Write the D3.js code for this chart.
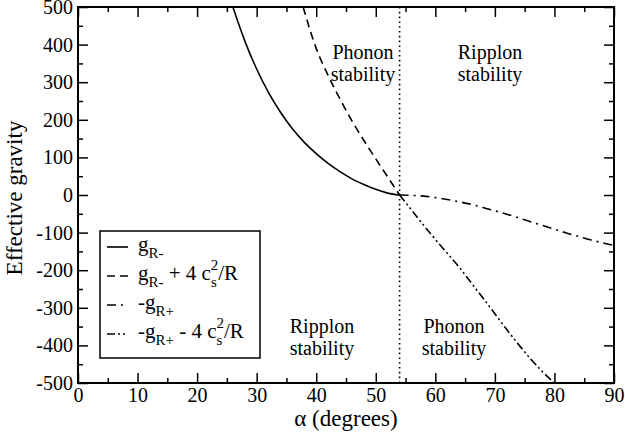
<!DOCTYPE html>
<html>
<head>
<meta charset="utf-8">
<script src="https://cdn.jsdelivr.net/npm/d3@7"></script>
<style>
  body { margin: 0; background: #fff; }
  text { font-family: "Liberation Serif", "DejaVu Serif", serif; fill: #000; }
</style>
</head>
<body>
<div id="viz"></div>
<script>
// curve data (alpha in degrees, effective gravity)
const alphaGm = [26, 28, 30, 32, 34, 36, 38, 40, 42, 44, 46, 48, 50, 52, 54];
const gMinus = [500, 410, 335, 272, 220, 176, 140, 110, 84, 62, 43, 28, 15, 5, 0];

const alphaGm4 = [37.8, 40, 42, 44, 46, 48, 50, 52, 54];
const gMinusPlus4 = [500, 390, 318, 255, 197, 145, 96, 48, 0];

const alphaGp = [54, 56, 58, 60, 62, 64, 66, 68, 70, 72, 74, 76, 78, 80, 82, 84, 86, 88, 90];
const negGPlus = [0, -1, -3, -7, -12, -18, -25, -33, -42, -51, -61, -71, -81, -91, -101, -110, -119, -127, -134];

const alphaGp4 = [54, 56, 58, 60, 62, 64, 66, 68, 70, 72, 74, 76, 78, 80];
const negGPlusMinus4 = [0, -40, -80, -118, -155, -192, -233, -274, -316, -358, -398, -436, -470, -500];

const magicAngle = 54;

const xTicks = [0, 10, 20, 30, 40, 50, 60, 70, 80, 90];
const yTicks = [500, 400, 300, 200, 100, 0, -100, -200, -300, -400, -500];

const width = 625;
const height = 435;
const margin = { left: 78, right: 11, top: 7, bottom: 52 };
const serif = '"Liberation Serif", serif';

const svg = d3.select("#viz").append("svg")
    .attr("width", width)
    .attr("height", height);

const x = d3.scaleLinear().domain([0, 90]).range([margin.left, width - margin.right]);
const y = d3.scaleLinear().domain([-500, 500]).range([height - margin.bottom, margin.top]);

svg.append("clipPath").attr("id", "clip")
    .append("rect")
    .attr("x", x(0)).attr("y", y(500))
    .attr("width", x(90) - x(0)).attr("height", y(-500) - y(500));

// plain hyphen for negatives, like the original
const fmt = d => String(d);

// ticks on all four sides, pointing inward
const minorX = d3.range(5, 90, 10);
const minorY = d3.range(-450, 500, 100);

svg.append("g").attr("transform", `translate(0,${y(-500)})`)
    .call(d3.axisBottom(x).tickValues(xTicks).tickSize(-10).tickPadding(5).tickFormat(fmt))
    .call(g => g.select(".domain").remove());
svg.append("g").attr("transform", `translate(0,${y(-500)})`)
    .call(d3.axisBottom(x).tickValues(minorX).tickSize(-5).tickFormat(""))
    .call(g => g.select(".domain").remove());
svg.append("g").attr("transform", `translate(0,${y(500)})`)
    .call(d3.axisTop(x).tickValues(xTicks).tickSize(-10).tickFormat(""))
    .call(g => g.select(".domain").remove());
svg.append("g").attr("transform", `translate(0,${y(500)})`)
    .call(d3.axisTop(x).tickValues(minorX).tickSize(-5).tickFormat(""))
    .call(g => g.select(".domain").remove());

svg.append("g").attr("transform", `translate(${x(0)},0)`)
    .call(d3.axisLeft(y).tickValues(yTicks).tickSize(-10).tickPadding(5).tickFormat(fmt))
    .call(g => g.select(".domain").remove());
svg.append("g").attr("transform", `translate(${x(0)},0)`)
    .call(d3.axisLeft(y).tickValues(minorY).tickSize(-5).tickFormat(""))
    .call(g => g.select(".domain").remove());
svg.append("g").attr("transform", `translate(${x(90)},0)`)
    .call(d3.axisRight(y).tickValues(yTicks).tickSize(-10).tickFormat(""))
    .call(g => g.select(".domain").remove());
svg.append("g").attr("transform", `translate(${x(90)},0)`)
    .call(d3.axisRight(y).tickValues(minorY).tickSize(-5).tickFormat(""))
    .call(g => g.select(".domain").remove());

svg.selectAll("g").attr("font-family", serif);
svg.selectAll(".tick line").attr("stroke", "#000").attr("stroke-width", 1.5);
svg.selectAll(".tick text").style("font-size", "20px").style("font-family", serif);

svg.append("rect")
    .attr("x", x(0)).attr("y", y(500))
    .attr("width", x(90) - x(0)).attr("height", y(-500) - y(500))
    .attr("fill", "none").attr("stroke", "#000").attr("stroke-width", 2);

// curves
const line = d3.line()
    .x(d => x(d[0]))
    .y(d => y(d[1]))
    .curve(d3.curveMonotoneX);

const series = [
    { xs: alphaGm, ys: gMinus, dash: null },
    { xs: alphaGm4, ys: gMinusPlus4, dash: "8,5" },
    { xs: alphaGp, ys: negGPlus, dash: "9,5,2,5" },
    { xs: alphaGp4, ys: negGPlusMinus4, dash: "8,3,2,3,2,3" }
];

const plot = svg.append("g").attr("clip-path", "url(#clip)");

plot.selectAll("path.curve")
    .data(series)
    .enter()
    .append("path")
    .attr("class", "curve")
    .attr("d", s => line(d3.zip(s.xs, s.ys)))
    .attr("fill", "none")
    .attr("stroke", "#000")
    .attr("stroke-width", 1.6)
    .attr("stroke-dasharray", s => s.dash);

plot.append("line")
    .attr("x1", x(magicAngle)).attr("x2", x(magicAngle))
    .attr("y1", y(500)).attr("y2", y(-500))
    .attr("stroke", "#000")
    .attr("stroke-width", 1.6)
    .attr("stroke-dasharray", "1.6,3.2");

// region labels
const regionLabels = [
    { cx: 363, cy: 59, t: ["Phonon", "stability"] },
    { cx: 490, cy: 59, t: ["Ripplon", "stability"] },
    { cx: 322, cy: 333, t: ["Ripplon", "stability"] },
    { cx: 454, cy: 333, t: ["Phonon", "stability"] }
];
regionLabels.forEach(r => {
    r.t.forEach((s, i) => {
        svg.append("text")
            .attr("x", r.cx).attr("y", r.cy + i * 22)
            .attr("text-anchor", "middle")
            .style("font-size", "20px")
            .text(s);
    });
});

// axis titles
svg.append("text")
    .attr("x", (x(0) + x(90)) / 2).attr("y", 426)
    .attr("text-anchor", "middle")
    .style("font-size", "23px")
    .text("α (degrees)");

svg.append("text")
    .attr("transform", "translate(22,198) rotate(-90)")
    .attr("text-anchor", "middle")
    .style("font-size", "23px")
    .text("Effective gravity");

// legend
const legend = svg.append("g");
legend.append("rect")
    .attr("x", 100).attr("y", 231)
    .attr("width", 160).attr("height", 127)
    .attr("fill", "#fff").attr("stroke", "#000").attr("stroke-width", 1.5);

const legendRows = [
    { dash: null, parts: [["g", 0], ["R-", 1]] },
    { dash: "8,5", parts: [["g", 0], ["R-", 1], [" + 4 c", 0], ["s", 1], ["2", 2], ["/R", 0]] },
    { dash: "9,5,2,5", parts: [["-g", 0], ["R+", 1]] },
    { dash: "8,3,2,3,2,3", parts: [["-g", 0], ["R+", 1], [" - 4 c", 0], ["s", 1], ["2", 2], ["/R", 0]] }
];

legendRows.forEach((row, i) => {
    const ly = 247 + i * 29;
    legend.append("line")
        .attr("x1", 107).attr("x2", 128)
        .attr("y1", ly).attr("y2", ly)
        .attr("stroke", "#000").attr("stroke-width", 1.6)
        .attr("stroke-dasharray", row.dash);
    const t = legend.append("text")
        .attr("x", 138).attr("y", ly + 4)
        .style("font-size", "21px");
    row.parts.forEach((p, k) => {
        const ts = t.append("tspan").text(p[0]);
        if (p[1] === 1) {
            ts.style("font-size", "15px").attr("dy", 7);
        } else if (p[1] === 2) {
            ts.style("font-size", "15px").attr("dx", -6).attr("dy", -17);
        } else if (k > 0) {
            const prev = row.parts[k - 1][1];
            ts.attr("dy", prev === 1 ? -7 : prev === 2 ? 10 : 0);
        }
    });
});
</script>
</body>
</html>
